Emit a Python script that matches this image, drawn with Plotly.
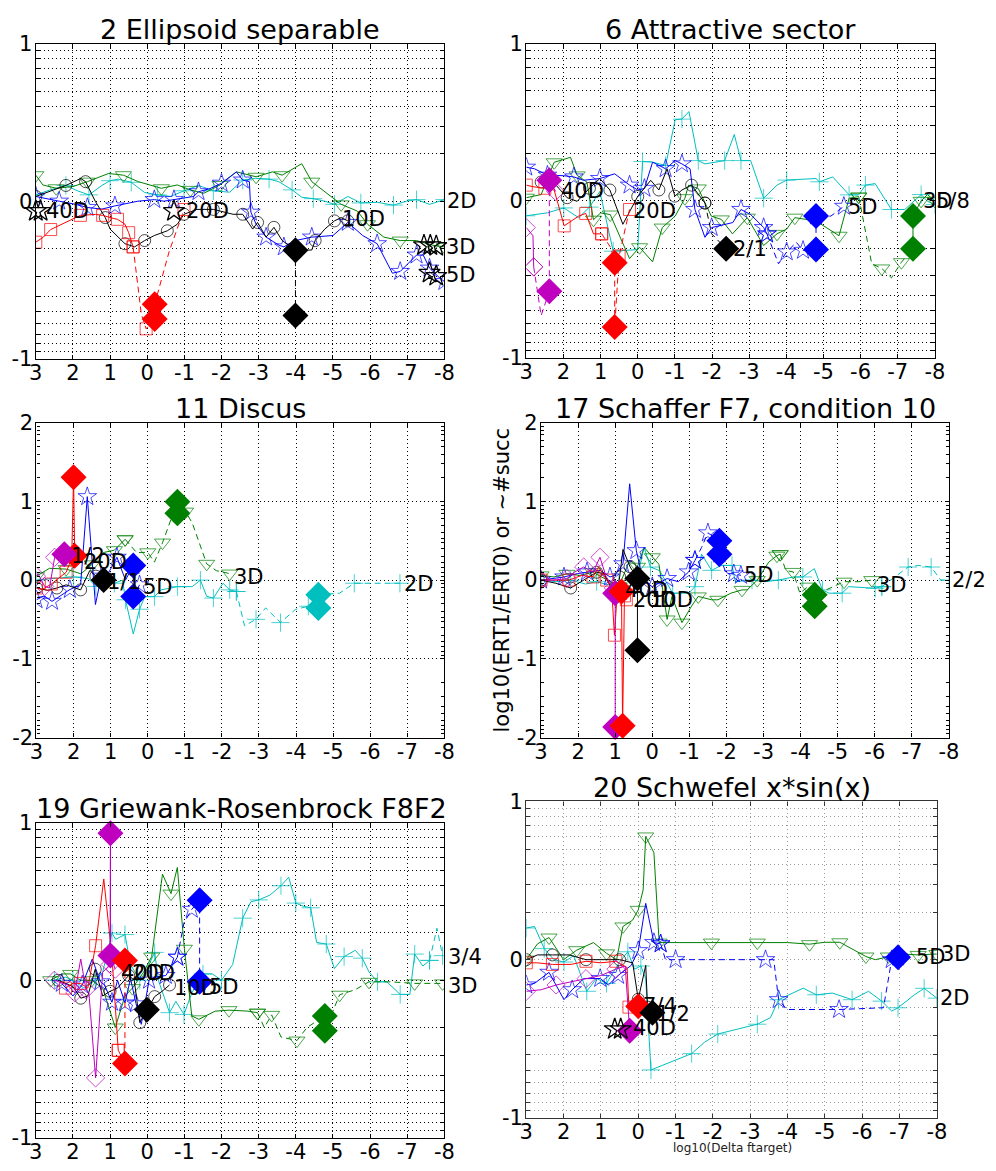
import math
import plotly.graph_objects as go

W, H = 996, 1171
FONT = "DejaVu Sans"

# ---------------- 2 Ellipsoid separable ----------------
ell_2D_x = [3.0, 2.63, 2.19, 1.88, 1.57, 1.22, 1.0, 0.78, 0.43, 0.07, -0.28, -0.63, -0.99, -1.38, -1.78, -2.22, -2.57, -2.92, -3.28, -3.54, -3.9, -4.16, -4.47, -4.78, -5.04, -5.4, -5.75, -6.19, -6.63, -6.98, -7.25, -7.6, -8.0]
ell_2D_y = [0.04, 0.07, 0.10, 0.066, 0.04, 0.10, 0.13, 0.14, 0.12, 0.055, 0.04, 0.03, 0.066, 0.10, 0.066, 0.057, 0.134, 0.145, 0.14, 0.124, 0.072, 0.025, 0.016, 0.0, -0.02, 0.03, -0.011, -0.007, -0.025, 0.0, 0.01, -0.02, 0.01]
ell_3D_x = [3.0, 2.81, 2.45, 2.0, 1.61, 1.04, 0.64, 0.24, -0.38, -0.81, -1.16, -1.52, -1.96, -2.40, -2.93, -3.37, -3.63, -4.16, -4.43, -5.0, -5.22, -5.66, -5.93, -6.37, -6.81, -7.25, -7.69, -8.0]
ell_3D_y = [0.165, 0.103, 0.082, 0.093, 0.124, 0.176, 0.165, 0.124, 0.082, 0.103, 0.072, 0.05, 0.103, 0.186, 0.155, 0.186, 0.165, 0.238, 0.124, 0.02, -0.02, -0.063, -0.146, -0.228, -0.25, -0.25, -0.28, -0.29]
ell_5D_x = [3.0, 2.63, 2.37, 1.93, 1.61, 1.22, 0.87, 0.25, -0.19, -0.45, -0.72, -1.25, -1.38, -1.69, -2.0, -2.4, -2.57, -2.75, -2.79, -2.93, -3.2, -3.55, -3.68, -3.99, -4.43, -5.0, -5.4, -5.8, -6.19, -6.6, -6.81, -7.03, -7.25, -7.43, -7.6, -7.87, -8.0]
ell_5D_y = [0.03, 0.01, 0.0, -0.02, -0.04, -0.05, -0.03, 0.0, 0.01, 0.0, 0.01, 0.03, 0.06, 0.08, 0.114, 0.186, 0.134, 0.124, -0.07, -0.145, -0.228, -0.28, -0.29, -0.25, -0.228, -0.218, -0.135, -0.218, -0.27, -0.457, -0.446, -0.394, -0.342, -0.342, -0.425, -0.487, -0.51]
ell_10D_x = [3.0, 2.63, 2.19, 1.79, 1.66, 1.4, 1.13, 1.0, 0.6, 0.34, 0.07, -0.19, -0.54, -0.81, -0.99, -1.34, -1.78, -2.31, -2.57, -2.84, -2.97, -3.2, -3.41, -3.63, -3.99, -4.43, -4.52, -4.78, -5.04, -5.22, -5.4]
ell_10D_y = [0.03, 0.06, 0.10, 0.144, 0.124, 0.0, -0.104, -0.177, -0.27, -0.29, -0.25, -0.218, -0.188, -0.146, -0.083, -0.052, -0.052, -0.083, -0.083, -0.177, -0.135, -0.228, -0.166, -0.249, -0.311, -0.31, -0.25, -0.177, -0.125, -0.104, -0.125]
ell_10D_dx = [-3.99, -3.99]
ell_10D_dy = [-0.311, -0.726]
ell_20D_x = [3.0, 2.8, 2.6, 2.19, 1.8, 1.39, 1.2, 0.9, 0.8, 0.6, 0.5, 0.38]
ell_20D_y = [-0.26, -0.229, -0.18, -0.136, -0.09, -0.084, -0.09, -0.11, -0.115, -0.146, -0.2, -0.29]
ell_20D_dx = [0.38, 0.16, 0.03, -0.2, -0.2, -0.59, -0.99]
ell_20D_dy = [-0.29, -0.716, -0.81, -0.747, -0.654, -0.32, -0.053]
ell_dia_x = [-0.2, -0.2, -3.99, -3.99]
ell_dia_y = [-0.654, -0.747, -0.311, -0.726]
ell_dia_d = ["20D", "20D", "10D", "10D"]
ell_lab_x = [-8.02, -8.0, -8.0, -5.2, -1.0, 2.78]
ell_lab_y = [0.0, -0.29, -0.47, -0.115, -0.063, -0.063]
ell_lab_t = ["2D", "3D", "5D", "10D", "20D", "40D"]
ell_star_x = [3.0, 2.87, -0.72, -7.45, -7.62, -7.78, -7.6, -7.78]
ell_star_y = [-0.063, -0.063, -0.063, -0.28, -0.28, -0.285, -0.455, -0.475]

# ---------------- 6 Attractive sector ----------------
att_2D_x = [3.0, 2.43, 1.99, 1.59, 1.3, 1.02, 0.66, 0.0, -0.13, -0.40, -0.75, -1.01, -1.19, -1.38, -1.63, -1.81, -2.34, -2.60, -2.78, -3.04, -3.39, -3.75, -4.01, -4.80, -4.89, -5.25, -5.69, -5.95, -6.13, -6.39, -6.83, -7.19, -7.63, -7.80, -8.0]
att_2D_y = [-0.095, -0.076, -0.045, -0.107, -0.04, 0.06, -0.32, -0.31, 0.25, 0.246, 0.225, 0.516, 0.52, 0.568, 0.256, 0.235, 0.256, 0.422, 0.256, 0.256, 0.017, 0.10, 0.132, 0.142, 0.121, 0.152, 0.038, 0.038, 0.10, 0.11, -0.055, -0.055, 0.04, -0.003, -0.024]
att_3D_x = [3.0, 2.6, 2.25, 1.81, 1.63, 1.37, 1.19, 1.0, 0.74, 0.22, -0.05, -0.40, -0.66, -1.01, -1.27, -1.37, -1.63, -1.98, -2.25, -2.55, -2.95, -3.39, -3.75, -4.01, -4.23, -4.80, -5.42, -5.69, -5.95]
att_3D_y = [0.02, 0.04, 0.245, 0.277, 0.162, 0.12, -0.12, -0.077, -0.087, -0.367, -0.295, -0.388, -0.17, -0.097, 0.017, 0.10, 0.079, -0.097, -0.118, -0.21, -0.107, -0.284, -0.21, -0.18, -0.107, -0.128, -0.222, 0.017, 0.027]
att_3D_dx = [-5.95, -6.3, -6.57, -6.83, -7.1, -7.41]
att_3D_dy = [0.027, -0.4, -0.43, -0.49, -0.39, -0.305]
att_3D_x2 = [-7.41, -7.41, -7.63, -7.8, -8.0]
att_3D_y2 = [-0.305, -0.097, 0.0, 0.04, 0.0]
att_5D_x = [3.0, 2.78, 2.43, 2.0, 1.72, 1.46, 1.02, 0.62, 0.22, 0.0, -0.18, -0.4, -0.75, -1.01, -1.19, -1.41, -1.54, -1.81, -1.99, -2.56, -2.78, -3.04, -3.39, -3.48]
att_5D_y = [0.214, 0.204, 0.163, 0.16, 0.152, 0.131, 0.142, 0.172, 0.10, 0.069, 0.079, 0.246, 0.204, 0.256, 0.235, 0.204, -0.055, -0.232, -0.17, -0.138, -0.055, -0.087, -0.17, -0.211]
att_5D_dx = [-3.48, -3.79, -4.01, -4.27, -4.45, -4.8, -4.8, -5.2, -5.55]
att_5D_dy = [-0.211, -0.4, -0.325, -0.264, -0.315, -0.31, -0.097, -0.097, -0.035]
att_10D_x = [2.6, 2.2, 1.9, 1.63, 1.3, 1.02, 0.75, 0.40, 0.0, -0.35, -0.57, -0.79, -1.0, -1.19, -1.45, -1.81]
att_10D_y = [0.12, 0.1, 0.02, -0.003, 0.08, 0.142, 0.069, -0.149, 0.028, 0.131, 0.069, 0.204, 0.03, 0.069, 0.1, -0.014]
att_10D_dx = [-1.81, -1.99, -2.38]
att_10D_dy = [-0.014, -0.21, -0.305]
att_20D_x = [3.0, 2.82, 2.5, 2.25, 1.98, 1.59, 1.4, 1.19, 0.97]
att_20D_y = [0.10, 0.09, 0.08, 0.069, -0.159, -0.097, -0.08, -0.21, -0.21]
att_20D_dx = [0.97, 0.72, 0.62, 0.62, 0.5, 0.22]
att_20D_dy = [-0.21, -0.3, -0.394, -0.803, -0.35, -0.055]
att_40D_x = [3.0, 2.82, 2.8]
att_40D_y = [-0.17, -0.222, -0.42]
att_40D_dx = [2.8, 2.6, 2.38, 2.38]
att_40D_dy = [-0.42, -0.73, -0.575, 0.131]
att_40D_x2 = [2.38, 2.21]
att_40D_y2 = [0.131, 0.06]
att_dia_x = [2.38, 2.38, 0.62, 0.62, -2.38, -4.8, -4.8, -7.41, -7.41]
att_dia_y = [0.131, -0.575, -0.394, -0.803, -0.305, -0.097, -0.31, -0.097, -0.305]
att_dia_d = ["40D", "40D", "20D", "20D", "10D", "5D", "5D", "3D", "3D"]
att_lab_x = [2.12, 0.19, -2.5, -5.6, -7.63, -7.98]
att_lab_y = [0.06, -0.064, -0.305, -0.04, 0.0, 0.0]
att_lab_t = ["40D", "20D", "2/1", "5D", "3D", "5/8"]

# ---------------- 11 Discus ----------------
dis_2D_x = [3.0, 2.6, 2.0, 1.6, 1.4, 1.15, 0.9, 0.68, 0.6, 0.39, 0.22, 0.08, -0.18, -0.36, -0.8, -1.2, -1.42, -1.59, -1.77, -2.03, -2.21, -2.39]
dis_2D_y = [0.0, 0.02, 0.04, 0.02, -0.08, 0.0, -0.04, 0.0, -0.25, -0.685, -0.37, -0.21, -0.21, -0.124, -0.083, -0.083, 0.0, -0.207, -0.228, -0.04, -0.124, -0.145]
dis_2D_dx = [-2.39, -2.61, -2.92, -3.18, -3.58, -3.98, -4.33, -4.6, -4.6, -5.17, -5.57, -6.19, -6.8]
dis_2D_dy = [-0.145, -0.58, -0.498, -0.353, -0.54, -0.373, -0.332, -0.353, -0.187, -0.166, -0.04, -0.04, -0.04]
dis_3D_x = [3.0, 2.65, 2.2, 1.8, 1.5, 1.2, 0.9, 0.61]
dis_3D_y = [0.05, 0.15, 0.14, 0.08, 0.2, 0.35, 0.38, 0.519]
dis_3D_dx = [0.61, 0.3, 0.0, -0.18, -0.4, -0.6, -0.8, -0.8, -1.02, -1.2, -1.59, -1.85, -2.21]
dis_3D_dy = [0.519, 0.35, 0.353, 0.228, 0.477, 0.74, 0.996, 0.85, 0.87, 0.726, 0.207, 0.12, 0.083]
dis_5D_x = [3.0, 2.8, 2.58, 2.37, 2.1, 1.81, 1.63, 1.41, 1.25, 1.05, 0.83, 0.6, 0.39]
dis_5D_y = [-0.25, -0.2, -0.27, -0.2, -0.12, -0.06, 1.06, -0.31, 0.05, 0.1, 0.29, 0.0, 0.187]
dis_5D_dx = [0.39, 0.39, 0.22]
dis_5D_dy = [0.187, -0.207, -0.06]
dis_10D_x = [3.0, 2.7, 2.45, 2.2, 1.81, 1.56, 1.4, 1.19]
dis_10D_y = [-0.1, -0.13, -0.1, -0.06, -0.124, 0.124, 0.05, 0.0]
dis_20D_x = [3.0, 2.85, 2.6, 2.42, 2.2, 2.05, 2.0, 1.97]
dis_20D_y = [-0.1, -0.12, -0.05, 0.02, 0.1, 0.28, 1.307, 0.31]
dis_40D_x = [3.0, 2.96, 2.78, 2.65, 2.51, 2.35, 2.25]
dis_40D_y = [0.05, 0.083, -0.08, -0.1, 0.29, 0.35, 0.33]
dis_dia_x = [2.0, 1.97, 2.25, 1.19, 0.39, 0.39, -0.8, -0.8, -4.6, -4.6]
dis_dia_y = [1.307, 0.31, 0.33, 0.0, 0.187, -0.207, 0.996, 0.85, -0.187, -0.353]
dis_dia_d = ["20D", "20D", "40D", "10D", "5D", "5D", "3D", "3D", "2D", "2D"]
dis_lab_x = [2.13, 1.76, 1.14, 0.17, -2.26, -6.85]
dis_lab_y = [0.31, 0.23, -0.02, -0.09, 0.04, -0.05]
dis_lab_t = ["1/2", "20D", "1/1", "5D", "3D", "2D"]

# ---------------- 17 Schaffer F7, condition 10 ----------------
sch_2D_x = [3.0, 2.6, 2.2, 1.8, 1.5, 1.2, 0.9, 0.6, 0.4, 0.22, 0.05, -0.2, -0.55, -0.98, -1.15, -1.33, -1.6, -1.86, -2.15, -2.24, -2.69, -3.04, -3.4, -3.8, -4.06, -4.37, -4.59, -4.77, -5.12, -5.3, -6.01, -6.19]
sch_2D_y = [0.0, -0.02, 0.0, -0.05, -0.02, -0.06, -0.04, -0.08, 0.05, 0.415, 0.166, 0.12, -0.166, -0.166, -0.083, 0.33, 0.124, 0.187, 0.187, -0.02, 0.0, -0.02, 0.0, 0.04, 0.04, 0.145, -0.124, -0.166, -0.166, -0.083, -0.104, -0.083]
sch_2D_dx = [-6.19, -6.55, -6.9, -7.16, -7.52, -7.78, -8.0]
sch_2D_dy = [-0.083, 0.04, 0.166, 0.187, 0.166, 0.0, 0.0]
sch_3D_x = [3.0, 2.65, 2.3, 1.95, 1.6, 1.2, 0.9, 0.61, 0.4, 0.22, 0.0, -0.18, -0.4, -0.53, -0.8, -1.06, -1.24, -1.6, -1.77, -2.12, -2.42, -2.56, -2.83, -3.14, -3.36, -3.45]
sch_3D_y = [0.06, 0.04, 0.08, 0.06, 0.1, 0.0, -0.08, 0.25, 0.17, 0.415, 0.29, 0.2, -0.5, -0.21, -0.54, -0.33, -0.207, -0.25, -0.25, -0.166, -0.124, -0.124, 0.0, 0.228, 0.31, 0.33]
sch_3D_dx = [-3.45, -3.6, -3.8, -3.98, -4.2, -4.38, -4.38, -4.69, -5.17, -5.57, -5.92]
sch_3D_dy = [0.33, 0.124, 0.104, -0.166, -0.083, -0.187, -0.332, -0.124, -0.02, -0.02, 0.0]
sch_5D_x = [3.0, 2.7, 2.38, 2.02, 1.76, 1.4, 1.14, 1.01, 0.79, 0.61, 0.43, 0.25, 0.0, -0.18, -0.4, -0.7, -0.98, -1.15]
sch_5D_y = [0.0, 0.02, 0.04, 0.083, 0.104, 0.124, 0.04, 0.06, 0.207, 1.224, 0.374, 0.0, -0.083, -0.04, 0.02, -0.02, 0.104, 0.25]
sch_5D_dx = [-1.15, -1.33, -1.5, -1.81, -1.81, -1.99, -2.2, -2.39]
sch_5D_dy = [0.25, 0.415, 0.6, 0.5, 0.33, 0.083, 0.08, 0.06]
sch_10D_x = [3.0, 2.6, 2.2, 1.84, 1.5, 1.3, 1.06, 1.0, 0.88, 0.79, 0.6, 0.4, 0.4]
sch_10D_y = [0.0, -0.04, -0.1, 0.0, 0.1, 0.083, -0.145, -0.29, 0.04, 0.39, 0.17, 0.02, -0.89]
sch_20D_x = [3.0, 2.6, 2.25, 1.9, 1.6, 1.45, 1.23, 1.1, 1.02, 0.95, 0.83, 0.8, 0.75, 0.7]
sch_20D_y = [0.0, 0.0, 0.0, 0.06, 0.04, 0.166, 0.0, -0.08, -0.7, -0.2, -0.145, -1.85, -0.2, -0.25]
sch_40D_x = [3.0, 2.65, 2.3, 2.1, 1.85, 1.6, 1.41, 1.25, 1.05, 1.0, 1.0]
sch_40D_y = [0.0, 0.0, 0.02, 0.1, 0.166, 0.1, 0.29, 0.05, -0.1, -0.166, -1.867]
sch_dia_x = [1.0, 1.0, 0.83, 0.8, 0.4, 0.4, -1.81, -1.81, -4.38, -4.38]
sch_dia_y = [-0.166, -1.867, -0.145, -1.85, 0.02, -0.89, 0.5, 0.33, -0.187, -0.332]
sch_dia_d = ["40D", "40D", "20D", "20D", "10D", "10D", "5D", "5D", "3D", "3D"]
sch_lab_x = [0.79, 0.57, 0.12, -2.43, -6.01, -8.04]
sch_lab_y = [-0.124, -0.25, -0.25, 0.06, -0.06, 0.0]
sch_lab_t = ["40D", "20D", "10D", "5D", "3D", "2/2"]

# ---------------- 19 Griewank-Rosenbrock F8F2 ----------------
gri_2D_x = [2.5, 2.2, 2.0, 1.7, 1.4, 1.2, 0.95, 0.85, 0.6, 0.45, 0.2, 0.05, -0.2, -0.3, -0.6, -0.77, -0.99, -1.2, -1.5, -1.75, -2.0, -2.3, -2.57, -2.79, -3.0, -3.3, -3.6, -3.81, -4.0, -4.2, -4.4, -4.56, -4.82, -5.04, -5.3, -5.6, -5.79, -5.97, -6.2, -6.45, -6.81, -7.07, -7.2, -7.42, -7.6]
gri_2D_y = [0.0, 0.02, 0.0, -0.05, 0.0, 0.05, 0.30, 0.26, 0.29, 0.1, 0.0, 0.05, 0.177, 0.0, -0.206, -0.134, -0.217, -0.08, 0.04, 0.04, 0.0, 0.1, 0.394, 0.498, 0.51, 0.54, 0.60, 0.654, 0.49, 0.47, 0.46, 0.24, 0.23, 0.074, 0.15, 0.19, 0.14, 0.053, -0.01, -0.01, -0.09, -0.09, 0.166, 0.09, 0.126]
gri_2D_dx = [-7.6, -7.8, -7.95]
gri_2D_dy = [0.126, 0.33, 0.156]
gri_3D_x = [2.6, 2.3, 2.06, 1.8, 1.5, 1.2, 0.86, 0.6, 0.4, 0.1, -0.12, -0.41, -0.64, -0.81, -1.0, -1.2, -1.39, -1.83, -2.2, -2.71, -2.97]
gri_3D_y = [0.0, 0.04, 0.04, 0.0, 0.0, -0.05, -0.3, -0.1, -0.05, 0.05, 0.15, 0.674, 0.55, 0.716, 0.2, -0.227, -0.248, -0.196, -0.19, -0.196, -0.206]
gri_3D_dx = [-2.97, -3.15, -3.35, -3.6, -4.03, -4.3, -4.78, -4.78, -5.18, -5.6, -5.97, -6.55, -7.2, -7.95]
gri_3D_dy = [-0.206, -0.3, -0.22, -0.36, -0.383, -0.3, -0.227, -0.32, -0.092, -0.06, -0.01, -0.01, -0.02, -0.02]
gri_5D_x = [2.3, 2.0, 1.75, 1.48, 1.26, 1.15, 0.95, 0.8, 0.6, 0.45, 0.3, 0.16, -0.05, -0.2, -0.5, -0.81]
gri_5D_y = [-0.02, -0.10, -0.03, 0.135, -0.01, -0.03, -0.14, 0.0, -0.144, 0.01, -0.15, -0.28, 0.0, 0.02, 0.03, 0.146]
gri_5D_dx = [-0.81, -0.99, -1.2, -1.41, -1.41]
gri_5D_dy = [0.146, 0.364, 0.45, 0.508, -0.01]
gri_10D_x = [2.4, 2.0, 1.79, 1.6, 1.4, 1.2, 1.0, 0.8, 0.5, 0.35, 0.2, 0.01, -0.2, -0.4, -0.6]
gri_10D_y = [0.0, -0.04, -0.114, -0.1, 0.07, -0.1, -0.07, -0.05, 0.03, 0.0, -0.269, -0.187, -0.104, -0.07, -0.03]
gri_20D_x = [2.2, 2.0, 1.8, 1.6, 1.39, 1.17, 0.95, 0.78]
gri_20D_y = [-0.05, -0.02, -0.02, -0.05, 0.219, 0.643, 0.15, -0.445]
gri_20D_dx = [0.78, 0.6, 0.6]
gri_20D_dy = [-0.445, -0.528, 0.125]
gri_40D_x = [2.5, 2.14, 1.95, 1.79, 1.65, 1.57, 1.39, 1.2, 1.0, 0.99, 0.99, 0.86]
gri_40D_y = [0.0, -0.03, -0.08, 0.135, -0.06, -0.08, -0.62, 0.05, 0.1, 0.934, 0.157, 0.07]
gri_dia_x = [0.99, 0.99, 0.6, 0.6, 0.01, -1.41, -1.41, -4.78, -4.78]
gri_dia_y = [0.934, 0.157, 0.125, -0.528, -0.187, 0.508, -0.01, -0.227, -0.32]
gri_dia_d = ["40D", "40D", "20D", "20D", "10D", "5D", "5D", "3D", "3D"]
gri_lab_x = [0.77, 0.47, -0.68, -1.6, -8.04, -8.04]
gri_lab_y = [0.043, 0.043, -0.05, -0.04, 0.146, -0.034]
gri_lab_t = ["40D", "20D", "10D", "5D", "3/4", "3D"]

# ---------------- 20 Schwefel x*sin(x) ----------------
sws_2D_x = [3.0, 2.78, 2.52, 2.26, 1.99, 1.73, 1.38, 1.12, 0.85, 0.5, 0.28, 0.1, -0.07, -0.2, -0.34, -0.9, -1.43, -1.78, -2.13, -2.66, -3.19, -3.54, -3.76, -4.42, -4.77, -5.2, -5.73, -6.17, -6.52, -6.79, -6.96, -7.4, -7.66, -8.0]
sws_2D_y = [0.2, 0.21, 0.07, 0.0, -0.015, 0.025, -0.2, -0.119, -0.15, -0.015, 0.05, -0.06, -0.04, -0.12, -0.697, -0.646, -0.594, -0.521, -0.47, -0.439, -0.408, -0.367, -0.253, -0.18, -0.222, -0.211, -0.253, -0.2, -0.262, -0.325, -0.304, -0.222, -0.181, -0.243]
sws_3D_x = [3.0, 2.7, 2.39, 2.0, 1.65, 1.2, 0.85, 0.58, 0.41, 0.15, 0.0, -0.13, -0.2, -0.42, -0.56, -1.0, -1.96, -2.5, -3.19, -4.0, -4.59, -5.0, -5.4, -5.82, -6.1, -6.35, -6.7, -7.05, -7.5, -8.0]
sws_3D_y = [0.0, 0.1, 0.14, 0.0, 0.06, 0.108, 0.04, 0.0, 0.21, 0.25, 0.315, 0.44, 0.779, 0.676, 0.108, 0.108, 0.108, 0.108, 0.108, 0.108, 0.098, 0.11, 0.11, 0.057, 0.02, 0.0, 0.02, 0.036, 0.03, 0.036]
sws_5D_x = [3.0, 2.78, 2.39, 1.99, 1.77, 1.46, 1.02, 0.8, 0.54, 0.19, 0.0, -0.2, -0.42, -0.6]
sws_5D_y = [-0.16, -0.15, -0.08, -0.253, -0.19, -0.12, -0.119, -0.16, -0.10, -0.036, 0.057, 0.356, 0.108, 0.1]
sws_5D_dx = [-0.6, -0.73, -1.0, -2.4, -3.41, -3.63, -3.76, -3.98, -5.38, -6.57, -6.79, -6.96]
sws_5D_dy = [0.1, 0.0, 0.0, 0.0, 0.0, 0.0, -0.253, -0.315, -0.315, -0.304, 0.0, 0.016]
sws_10D_x = [3.0, 2.7, 2.3, 1.85, 1.4, 0.9, 0.5, 0.15, 0.0, -0.2, -0.25, -0.38]
sws_10D_y = [0.0, 0.03, 0.03, 0.03, 0.0, 0.0, 0.0, -0.02, -0.25, -0.036, -0.3, -0.335]
sws_20D_x = [3.0, 2.7, 2.3, 1.8, 1.4, 1.0, 0.6, 0.3, 0.25, 0.0]
sws_20D_y = [-0.02, -0.02, -0.03, -0.03, -0.01, -0.02, -0.01, -0.05, -0.3, -0.294]
sws_40D_x = [3.0, 2.6, 2.2, 1.8, 1.4, 1.0, 0.6, 0.35, 0.23]
sws_40D_y = [-0.2, -0.19, -0.16, -0.14, -0.12, -0.1, -0.06, -0.04, -0.45]
sws_dia_x = [0.0, -0.38, 0.23, -6.96]
sws_dia_y = [-0.294, -0.335, -0.45, 0.016]
sws_dia_d = ["20D", "10D", "40D", "5D"]
sws_lab_x = [-0.07, -0.42, 0.2, -7.4, -8.06, -8.02]
sws_lab_y = [-0.294, -0.346, -0.435, 0.02, 0.036, -0.243]
sws_lab_t = ["7/4", "1/2", "40D", "5D", "3D", "2D"]
sws_star_x = [0.63, 0.47]
sws_star_y = [-0.44, -0.44]

x_ticks = [3, 2, 1, 0, -1, -2, -3, -4, -5, -6, -7, -8]

# ---------------- styling ----------------
COLORS = {"2D": "#00BFBF", "3D": "#008000", "5D": "#0000FF", "10D": "#000000", "20D": "#FF0000", "40D": "#BF00BF"}
SYMBOLS = {"2D": "cross-thin-open", "3D": "triangle-down-open", "5D": "star-open",
           "10D": "circle-open", "20D": "square-open", "40D": "diamond-open"}
MSIZE = {"2D": 13, "3D": 14, "5D": 14, "10D": 12, "20D": 12, "40D": 14}
DASH = "6px,4px"

PANELS = [
    dict(n=1, title="2 Ellipsoid separable", box=(29.3, 445.0, 32.3, 354.0), ylim=1, tpos=(237, 18),
         series=[("2D", ell_2D_x, ell_2D_y, False), ("3D", ell_3D_x, ell_3D_y, False),
                 ("5D", ell_5D_x, ell_5D_y, False), ("10D", ell_10D_x, ell_10D_y, False),
                 ("10D", ell_10D_dx, ell_10D_dy, True), ("20D", ell_20D_x, ell_20D_y, False),
                 ("20D", ell_20D_dx, ell_20D_dy, True)],
         dia=(ell_dia_x, ell_dia_y, ell_dia_d), lab=(ell_lab_x, ell_lab_y, ell_lab_t),
         star=(ell_star_x, ell_star_y)),
    dict(n=2, title="6 Attractive sector", box=(528.3, 944.0, 32.3, 353.3), ylim=1, tpos=(736, 18),
         series=[("2D", att_2D_x, att_2D_y, False), ("3D", att_3D_x, att_3D_y, False),
                 ("3D", att_3D_dx, att_3D_dy, True), ("3D", att_3D_x2, att_3D_y2, False),
                 ("5D", att_5D_x, att_5D_y, False), ("5D", att_5D_dx, att_5D_dy, True),
                 ("10D", att_10D_x, att_10D_y, False), ("10D", att_10D_dx, att_10D_dy, True),
                 ("20D", att_20D_x, att_20D_y, False), ("20D", att_20D_dx, att_20D_dy, True),
                 ("40D", att_40D_x, att_40D_y, False), ("40D", att_40D_dx, att_40D_dy, True),
                 ("40D", att_40D_x2, att_40D_y2, False)],
         dia=(att_dia_x, att_dia_y, att_dia_d), lab=(att_lab_x, att_lab_y, att_lab_t), star=None),
    dict(n=3, title="11 Discus", box=(30.0, 445.0, 419.3, 740.7), ylim=2, tpos=(238, 405),
         series=[("2D", dis_2D_x, dis_2D_y, False), ("2D", dis_2D_dx, dis_2D_dy, True),
                 ("3D", dis_3D_x, dis_3D_y, False), ("3D", dis_3D_dx, dis_3D_dy, True),
                 ("5D", dis_5D_x, dis_5D_y, False), ("5D", dis_5D_dx, dis_5D_dy, True),
                 ("10D", dis_10D_x, dis_10D_y, False), ("20D", dis_20D_x, dis_20D_y, False),
                 ("40D", dis_40D_x, dis_40D_y, False)],
         dia=(dis_dia_x, dis_dia_y, dis_dia_d), lab=(dis_lab_x, dis_lab_y, dis_lab_t), star=None),
    dict(n=4, title="17 Schaffer F7, condition 10", box=(543.3, 958.3, 419.3, 740.7), ylim=2, tpos=(751, 405),
         series=[("2D", sch_2D_x, sch_2D_y, False), ("2D", sch_2D_dx, sch_2D_dy, True),
                 ("3D", sch_3D_x, sch_3D_y, False), ("3D", sch_3D_dx, sch_3D_dy, True),
                 ("5D", sch_5D_x, sch_5D_y, False), ("5D", sch_5D_dx, sch_5D_dy, True),
                 ("10D", sch_10D_x, sch_10D_y, False), ("20D", sch_20D_x, sch_20D_y, False),
                 ("40D", sch_40D_x, sch_40D_y, False)],
         dia=(sch_dia_x, sch_dia_y, sch_dia_d), lab=(sch_lab_x, sch_lab_y, sch_lab_t), star=None),
    dict(n=5, title="19 Griewank-Rosenbrock F8F2", box=(29.3, 445.0, 827.7, 1149.3), ylim=1, tpos=(239, 813),
         series=[("2D", gri_2D_x, gri_2D_y, False), ("2D", gri_2D_dx, gri_2D_dy, True),
                 ("3D", gri_3D_x, gri_3D_y, False), ("3D", gri_3D_dx, gri_3D_dy, True),
                 ("5D", gri_5D_x, gri_5D_y, False), ("5D", gri_5D_dx, gri_5D_dy, True),
                 ("10D", gri_10D_x, gri_10D_y, False), ("20D", gri_20D_x, gri_20D_y, False),
                 ("20D", gri_20D_dx, gri_20D_dy, True), ("40D", gri_40D_x, gri_40D_y, False)],
         dia=(gri_dia_x, gri_dia_y, gri_dia_d), lab=(gri_lab_x, gri_lab_y, gri_lab_t), star=None),
    dict(n=6, title="20 Schwefel x*sin(x)", box=(528.3, 946.0, 806.0, 1129.0), ylim=1, tpos=(738, 792),
         series=[("2D", sws_2D_x, sws_2D_y, False), ("3D", sws_3D_x, sws_3D_y, False),
                 ("5D", sws_5D_x, sws_5D_y, False), ("5D", sws_5D_dx, sws_5D_dy, True),
                 ("10D", sws_10D_x, sws_10D_y, False), ("20D", sws_20D_x, sws_20D_y, False),
                 ("40D", sws_40D_x, sws_40D_y, False)],
         dia=(sws_dia_x, sws_dia_y, sws_dia_d), lab=(sws_lab_x, sws_lab_y, sws_lab_t),
         star=(sws_star_x, sws_star_y)),
]

log_vals = sorted({round(math.log10(k), 5) for k in range(1, 11)} | {-round(math.log10(k), 5) for k in range(1, 11)})
log_text = [("1" if v == 1 else "-1" if v == -1 else "0" if v == 0 else "") for v in log_vals]
two_vals = [-2, -1, 0, 1, 2]
two_minor = sorted({round(n + s * math.log10(k), 5) for n in (-1, 0, 1) for s in (1, -1) for k in range(2, 10)
                    if -2 < n + s * math.log10(k) < 2})

fig = go.Figure()
annotations = []
layout = dict(width=W, height=H, margin=dict(l=0, r=0, t=0, b=0, pad=0), autosize=False,
              paper_bgcolor="white", plot_bgcolor="white", showlegend=False, hovermode=False,
              font=dict(family=FONT, color="black"))

for p in PANELS:
    n = p["n"]
    sfx = "" if n == 1 else str(n)
    xa, ya = "x" + sfx, "y" + sfx
    L, R, T, B = p["box"]
    ppu = (R - L) / 11.0
    gridc = "#9a9a9a" if n == 6 else "black"
    linec = "#333333" if n == 6 else "black"
    common = dict(showgrid=True, gridcolor=gridc, griddash="1px,3px", gridwidth=1,
                  ticks="inside", ticklen=4, tickcolor=linec, tickwidth=1,
                  showline=True, linecolor=linec, linewidth=1.3, mirror="allticks",
                  zeroline=False, tickfont=dict(family=FONT, size=21, color="black"), fixedrange=True)
    layout["xaxis" + sfx] = dict(domain=[L / W, R / W], anchor=ya, range=[3, -8], autorange=False,
                                 tickmode="array", tickvals=x_ticks, ticktext=[str(v) for v in x_ticks],
                                 ticklabelstandoff=-5, **common)
    if p["ylim"] == 1:
        ydict = dict(tickmode="array", tickvals=log_vals, ticktext=log_text, range=[-1, 1])
    else:
        ydict = dict(tickmode="array", tickvals=two_vals, ticktext=[str(v) for v in two_vals], range=[-2, 2],
                     minor=dict(tickmode="array", tickvals=two_minor, ticks="inside", ticklen=3,
                                tickcolor=linec, showgrid=False))
    layout["yaxis" + sfx] = dict(domain=[1 - B / H, 1 - T / H], anchor=xa, autorange=False,
                                 ticklabelstandoff=-2, **ydict, **common)

    for dim, xs, ys, dashed in p["series"]:
        c = COLORS[dim]
        sizes = [MSIZE[dim] if (i % 2 == 0 or i == len(xs) - 1) else 0 for i in range(len(xs))]
        fig.add_trace(go.Scatter(x=xs, y=ys, xaxis=xa, yaxis=ya, mode="lines+markers",
                                 line=dict(color=c, width=1, dash=DASH if dashed else "solid"),
                                 marker=dict(symbol=SYMBOLS[dim], size=sizes, color=c, line=dict(color=c, width=1)),
                                 showlegend=False, hoverinfo="skip"))
    dx, dy, dd = p["dia"]
    fig.add_trace(go.Scatter(x=dx, y=dy, xaxis=xa, yaxis=ya, mode="markers",
                             marker=dict(symbol="diamond", size=20, color=[COLORS[d] for d in dd], line=dict(width=0)),
                             showlegend=False, hoverinfo="skip", cliponaxis=False))
    if p["star"]:
        sx, sy = p["star"]
        fig.add_trace(go.Scatter(x=sx, y=sy, xaxis=xa, yaxis=ya, mode="markers",
                                 marker=dict(symbol="star-open", size=16, color="black", line=dict(color="black", width=1.3)),
                                 showlegend=False, hoverinfo="skip", cliponaxis=False))
    lx, ly, lt = p["lab"]
    for x, y, t in zip(lx, ly, lt):
        xc = max(x, -8.0)
        annotations.append(dict(x=xc, y=y, xref=xa, yref=ya, text=t, showarrow=False, xanchor="left",
                                xshift=(xc - x) * ppu, yanchor="middle",
                                font=dict(family=FONT, size=21, color="black")))
    tx, ty = p["tpos"]
    annotations.append(dict(x=tx / W, y=1 - ty / H, xref="paper", yref="paper", text=p["title"], showarrow=False,
                            xanchor="center", yanchor="middle", font=dict(family=FONT, size=27, color="black")))

annotations.append(dict(x=504 / W, y=1 - 580 / H, xref="paper", yref="paper", text="log10(ERT1/ERT0) or ~#succ",
                        textangle=-90, showarrow=False, xanchor="center", yanchor="middle",
                        font=dict(family=FONT, size=21, color="black")))
annotations.append(dict(x=738 / W, y=1 - 1160 / H, xref="paper", yref="paper", text="log10(Delta ftarget)",
                        showarrow=False, xanchor="center", yanchor="middle",
                        font=dict(family=FONT, size=12, color="#222222")))
layout["annotations"] = annotations
fig.update_layout(**layout)
fig.write_html("out.html")
